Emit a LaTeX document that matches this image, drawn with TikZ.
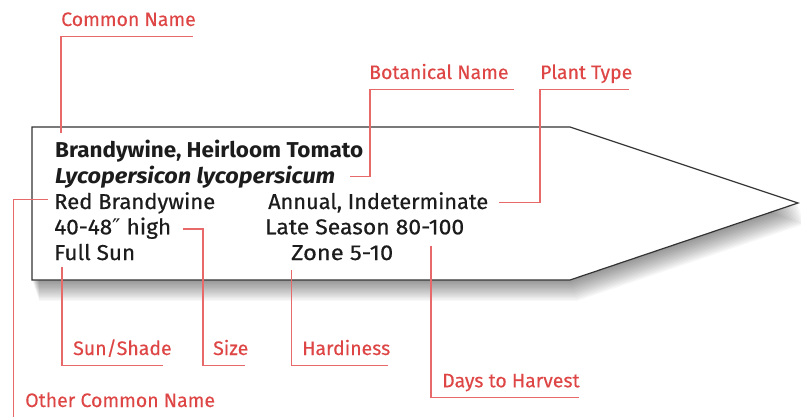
\documentclass[tikz,border=0pt]{standalone}
\usepackage{fontspec}
\setmainfont{Fira Sans}
\newfontfamily\dejavu{DejaVu Sans}
\definecolor{labred}{RGB}{222,70,70}
\definecolor{connred}{RGB}{232,105,105}
\definecolor{ink}{RGB}{28,28,28}
\newcommand{\fitw}[2]{\resizebox{#1}{\height}{#2}}
\tikzset{
  txt/.style={anchor=base west, inner sep=0pt, text=ink, font=\fontsize{21.5}{26}\selectfont\addfontfeature{FakeBold=0.5}},
  lab/.style={anchor=base west, inner sep=0pt, text=labred, font=\fontsize{19.5}{24}\selectfont\addfontfeature{FakeBold=0.3}},
  conn/.style={draw=connred, line width=1.3pt},
  tagline/.style={draw=ink!90, line width=1.2pt, fill=white, line join=miter}
}
\begin{document}
\begin{tikzpicture}[x=1pt,y=-1pt]
\useasboundingbox (0,0) rectangle (801,417);
% shadow
\foreach \i in {1,...,16}{
  \fill[black, opacity=0.03, xshift={\i*0.45pt}, yshift={-\i*1.3pt}]
    (32,127) -- (570,127) -- (798,203) -- (570,280) -- (32,280) -- cycle;
}
% tag
\path[tagline] (32,127) -- (570,127) -- (798,203) -- (570,280) -- (32,280) -- cycle;
% tag texts
\node[txt, font=\fontsize{21.5}{26}\selectfont\bfseries] (cname) at (55,157.7) {\fitw{308pt}{Brandywine, Heirloom Tomato}};
\node[txt, font=\fontsize{21.5}{26}\selectfont\bfseries\itshape] (bname) at (55,183.3) {\fitw{280pt}{Lycopersicon lycopersicum}};
\node[txt] (oname) at (54,209) {\fitw{161pt}{Red Brandywine}};
\node[txt] (sizev) at (54,234.3) {\fitw{117pt}{40-48{\dejavu ″} high}};
\node[txt] (sunv) at (54,260) {\fitw{81pt}{Full Sun}};
\node[txt] (typev) at (268,209) {\fitw{220pt}{Annual, Indeterminate}};
\node[txt] (daysv) at (265,234.3) {\fitw{199pt}{Late Season 80-100}};
\node[txt] (hardv) at (291,260) {\fitw{102pt}{Zone 5-10}};
% labels
\node[lab] (lcommon) at (61,26) {Common Name};
\node[lab] (lbot) at (369,79) {Botanical Name};
\node[lab] (ltype) at (540,79) {Plant Type};
\node[lab] (lsun) at (73,355) {Sun/Shade};
\node[lab] (lsize) at (213,355) {Size};
\node[lab] (lhard) at (302,355) {Hardiness};
\node[lab] (ldays) at (442,387.3) {Days to Harvest};
\node[lab] (lother) at (25,407) {Other Common Name};
% connector points
\coordinate (c1) at (193,36.7);   \coordinate (c2) at (61,133);
\coordinate (b1) at (514,89.3);   \coordinate (b2) at (370,176.7); \coordinate (b3) at (350,176.7);
\coordinate (p1) at (629,89.3);   \coordinate (p2) at (540,202.5); \coordinate (p3) at (499,202.5);
\coordinate (o1) at (48,199.3);   \coordinate (o2) at (13.3,417);
\coordinate (s1) at (183,229);    \coordinate (s2) at (203,365.7); \coordinate (s3) at (245,365.7);
\coordinate (u1) at (62,267);     \coordinate (u2) at (163,365.7);
\coordinate (h1) at (291.5,270);  \coordinate (h2) at (388,365.7);
\coordinate (d1) at (431,245.7);  \coordinate (d2) at (579,397.3);
% connectors
\draw[conn] (c1) -| (c2);
\draw[conn] (b1) -| (b2) -- (b3);
\draw[conn] (p1) -| (p2) -- (p3);
\draw[conn] (o1) -| (o2);
\draw[conn] (s1) -| (s2) -- (s3);
\draw[conn] (u1) |- (u2);
\draw[conn] (h1) |- (h2);
\draw[conn] (d1) |- (d2);
\end{tikzpicture}
\end{document}
